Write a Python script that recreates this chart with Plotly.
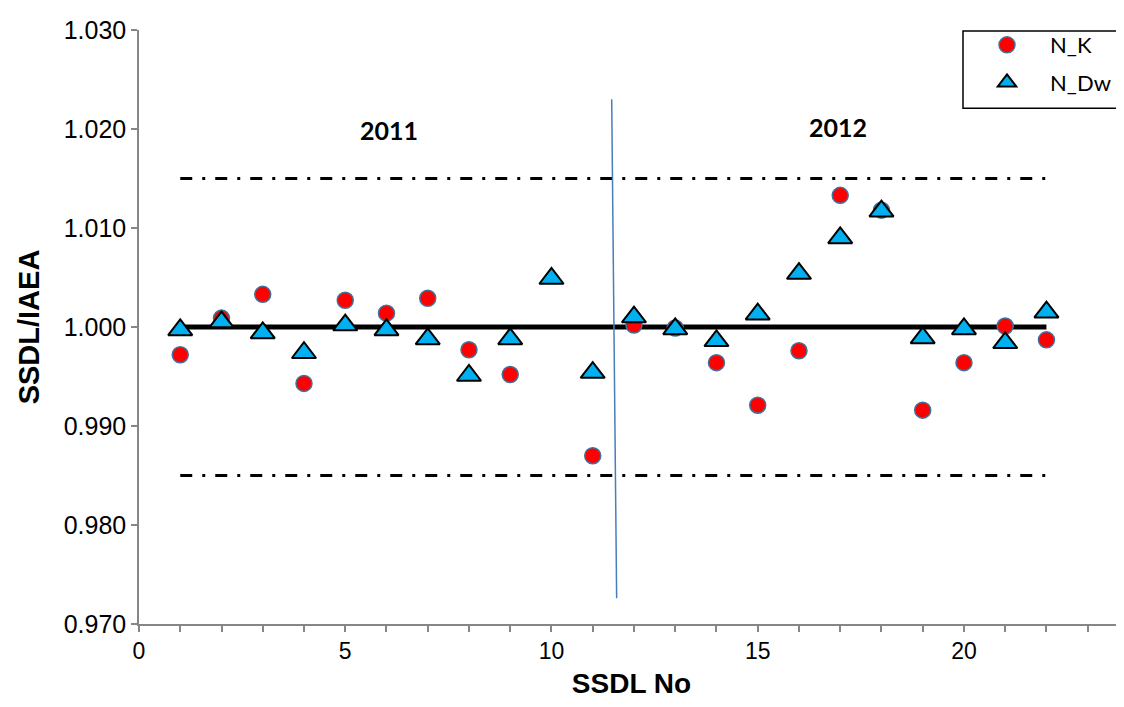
import plotly.graph_objects as go

# ---- data ----
ssdl_no = list(range(1, 23))
n_k = [0.9972, 1.0009, 1.0033, 0.9943, 1.0027, 1.0014, 1.0029, 0.9977, 0.9952, None,
       0.9870, 1.0002, 0.9999, 0.9964, 0.9921, 0.9976, 1.0133, 1.0118, 0.9916, 0.9964,
       1.0001, 0.9987]
n_dw = [0.9997, 1.0005, 0.9994, 0.9974, 1.0002, 0.9997, 0.9988, 0.9951, 0.9988, 1.0049,
        0.9954, 1.0010, 0.9998, 0.9986, 1.0013, 1.0054, 1.0090, 1.0117, 0.9989, 0.9998,
        0.9984, 1.0015]

ref_x = [1, 22]
ref_y = [1.000, 1.000]
upper_y = [1.015, 1.015]
lower_y = [0.985, 0.985]
divider_x = [11.46, 11.58]
divider_y = [1.0230, 0.9726]

year_labels = ["2011", "2012"]
year_x = [6.05, 16.95]
year_y = [1.0199, 1.0202]

x_ticks = list(range(0, 24))
x_ticktext = [str(v) if v % 5 == 0 else "" for v in x_ticks]
y_ticks = [0.970, 0.980, 0.990, 1.000, 1.010, 1.020, 1.030]

AX = "#868686"

fig = go.Figure()

fig.add_trace(go.Scatter(x=ref_x, y=upper_y, mode="lines", showlegend=False,
                         line=dict(color="black", width=3, dash="12px,10px,3px,10px")))
fig.add_trace(go.Scatter(x=ref_x, y=lower_y, mode="lines", showlegend=False,
                         line=dict(color="black", width=3, dash="12px,10px,3px,10px")))
fig.add_trace(go.Scatter(x=ref_x, y=ref_y, mode="lines", showlegend=False,
                         line=dict(color="black", width=5)))
fig.add_trace(go.Scatter(x=divider_x, y=divider_y, mode="lines", showlegend=False,
                         line=dict(color="#4a7ebb", width=1.5)))

fig.add_trace(go.Scatter(x=ssdl_no, y=n_k, mode="markers", name="N_K", legendgroup="a",
                         marker=dict(symbol="circle", size=16, color="#ff0000",
                                     line=dict(color="#41719c", width=1.5))))
fig.add_trace(go.Scatter(x=ssdl_no, y=n_dw, mode="markers", name="N_Dw", legendgroup="b",
                         marker=dict(symbol="triangle-up", size=21, color="#00b0f0",
                                     line=dict(color="black", width=2))))

for t, xx, yy in zip(year_labels, year_x, year_y):
    fig.add_annotation(x=xx, y=yy, text="<b>%s</b>" % t, showarrow=False,
                       font=dict(family="Lato", size=25, color="black"))

# legend frame (right edge runs off the picture)
fig.add_shape(type="rect", xref="paper", yref="paper",
              x0=(963 - 139) / 985, x1=1.05, y0=(624 - 103) / 600, y1=(624 - 25) / 600,
              line=dict(color="black", width=1.5), fillcolor="rgba(0,0,0,0)")

fig.update_layout(
    width=1124, height=707,
    margin=dict(l=131, r=8, t=16, b=91),
    plot_bgcolor="white", paper_bgcolor="white",
    font=dict(family="Liberation Sans", color="black"),
    legend=dict(x=(964 - 139) / 985, y=(624 - 18) / 600, xanchor="left", yanchor="top",
                bgcolor="rgba(0,0,0,0)", borderwidth=0,
                font=dict(family="Lato", size=22, color="black"),
                tracegroupgap=6, itemwidth=76),
    xaxis=dict(range=[0, 23.88], tickmode="array", tickvals=x_ticks, ticktext=x_ticktext,
               ticks="outside", ticklen=6, tickcolor=AX, tickwidth=1.5,
               showline=True, linecolor=AX, linewidth=1.5, showgrid=False, zeroline=False,
               tickfont=dict(size=23),
               title=dict(text="<b>SSDL No</b>", font=dict(size=28), standoff=10)),
    yaxis=dict(range=[0.970, 1.030], tickmode="array", tickvals=y_ticks,
               tickformat=".3f", ticks="outside", ticklen=6, tickcolor=AX, tickwidth=1.5,
               showline=True, linecolor=AX, linewidth=1.5, showgrid=False, zeroline=False,
               tickfont=dict(size=25),
               title=dict(text="<b>SSDL/IAEA</b>", font=dict(size=29), standoff=16)),
)

fig.write_html("out.html")
